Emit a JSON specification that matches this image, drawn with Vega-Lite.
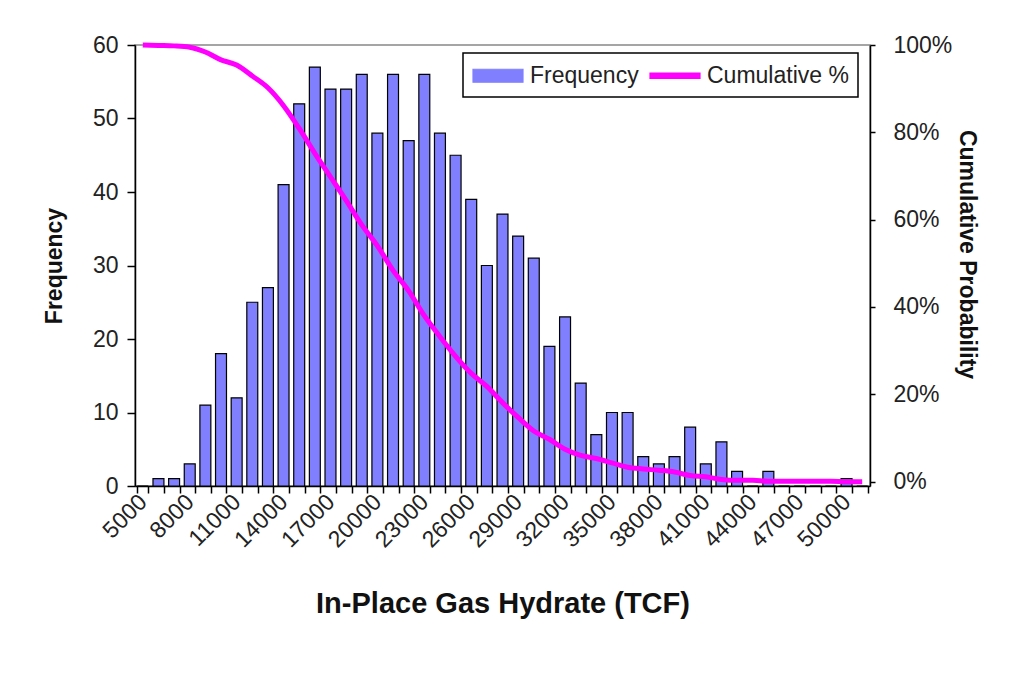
{
  "$schema": "https://vega.github.io/schema/vega-lite/v6.json",
  "width": 735,
  "height": 441,
  "autosize": {"type": "none"},
  "padding": {"left": 135, "top": 45, "right": 154, "bottom": 212},
  "background": "white",
  "config": {
    "view": {"stroke": "#888888", "strokeWidth": 1.5},
    "font": "Liberation Sans",
    "axis": {
      "labelFont": "Liberation Sans",
      "labelFontSize": 23,
      "labelColor": "#222222",
      "titleFont": "Liberation Sans",
      "titleFontWeight": "bold",
      "titleColor": "#111111",
      "domainColor": "#000000",
      "domainWidth": 1.5,
      "tickColor": "#000000",
      "tickWidth": 1.5,
      "grid": false
    },
    "legend": {
      "orient": "none",
      "legendX": 328,
      "legendY": 8,
      "direction": "horizontal",
      "strokeColor": "#000000",
      "padding": 9,
      "labelFont": "Liberation Sans",
      "labelFontSize": 23,
      "labelColor": "#222222",
      "symbolType": "M-1,-0.52H3V0.52H-1Z",
      "symbolSize": 625,
      "symbolStrokeColor": "#000000",
      "symbolStrokeWidth": 1.2,
      "labelOffset": 31,
      "columnPadding": 8
    }
  },
  "data": {
    "values": [
      {"bin": 5000, "freq": 0, "cum": 1.0},
      {"bin": 6000, "freq": 1, "cum": 0.999},
      {"bin": 7000, "freq": 1, "cum": 0.998},
      {"bin": 8000, "freq": 3, "cum": 0.995},
      {"bin": 9000, "freq": 11, "cum": 0.984},
      {"bin": 10000, "freq": 18, "cum": 0.966},
      {"bin": 11000, "freq": 12, "cum": 0.954},
      {"bin": 12000, "freq": 25, "cum": 0.929},
      {"bin": 13000, "freq": 27, "cum": 0.902},
      {"bin": 14000, "freq": 41, "cum": 0.861},
      {"bin": 15000, "freq": 52, "cum": 0.809},
      {"bin": 16000, "freq": 57, "cum": 0.752},
      {"bin": 17000, "freq": 54, "cum": 0.698},
      {"bin": 18000, "freq": 54, "cum": 0.644},
      {"bin": 19000, "freq": 56, "cum": 0.588},
      {"bin": 20000, "freq": 48, "cum": 0.54},
      {"bin": 21000, "freq": 56, "cum": 0.484},
      {"bin": 22000, "freq": 47, "cum": 0.437},
      {"bin": 23000, "freq": 56, "cum": 0.38},
      {"bin": 24000, "freq": 48, "cum": 0.332},
      {"bin": 25000, "freq": 45, "cum": 0.287},
      {"bin": 26000, "freq": 39, "cum": 0.248},
      {"bin": 27000, "freq": 30, "cum": 0.218},
      {"bin": 28000, "freq": 37, "cum": 0.181},
      {"bin": 29000, "freq": 34, "cum": 0.147},
      {"bin": 30000, "freq": 31, "cum": 0.116},
      {"bin": 31000, "freq": 19, "cum": 0.097},
      {"bin": 32000, "freq": 23, "cum": 0.074},
      {"bin": 33000, "freq": 14, "cum": 0.06},
      {"bin": 34000, "freq": 7, "cum": 0.053},
      {"bin": 35000, "freq": 10, "cum": 0.043},
      {"bin": 36000, "freq": 10, "cum": 0.033},
      {"bin": 37000, "freq": 4, "cum": 0.029},
      {"bin": 38000, "freq": 3, "cum": 0.026},
      {"bin": 39000, "freq": 4, "cum": 0.022},
      {"bin": 40000, "freq": 8, "cum": 0.014},
      {"bin": 41000, "freq": 3, "cum": 0.011},
      {"bin": 42000, "freq": 6, "cum": 0.005},
      {"bin": 43000, "freq": 2, "cum": 0.003},
      {"bin": 44000, "freq": 0, "cum": 0.003},
      {"bin": 45000, "freq": 2, "cum": 0.001},
      {"bin": 46000, "freq": 0, "cum": 0.001},
      {"bin": 47000, "freq": 0, "cum": 0.001},
      {"bin": 48000, "freq": 0, "cum": 0.001},
      {"bin": 49000, "freq": 0, "cum": 0.001},
      {"bin": 50000, "freq": 1, "cum": 0.0},
      {"bin": 51000, "freq": 0, "cum": 0.0}
    ]
  },
  "encoding": {
    "x": {
      "field": "bin",
      "type": "ordinal",
      "scale": {"paddingInner": 0.3, "paddingOuter": 0.15},
      "axis": {
        "title": "In-Place Gas Hydrate (TCF)",
        "titleFontSize": 29,
        "titleY": 103,
        "labelAngle": -45,
        "labelAlign": "right",
        "labelBaseline": "middle",
        "labelPadding": 5,
        "labelOverlap": false,
        "labelExpr": "datum.value % 3000 == 2000 ? datum.label : ''",
        "tickBand": "extent",
        "tickSize": 7
      }
    }
  },
  "layer": [
    {
      "mark": {"type": "bar", "stroke": "#000000", "strokeWidth": 1.2},
      "encoding": {
        "y": {
          "field": "freq",
          "type": "quantitative",
          "scale": {"domain": [0, 60], "nice": false},
          "axis": {
            "title": "Frequency",
            "titleFontSize": 23,
            "titlePadding": 26,
            "values": [0, 10, 20, 30, 40, 50, 60],
            "tickSize": 8,
            "labelPadding": 9
          }
        },
        "color": {
          "datum": "Frequency",
          "type": "nominal",
          "scale": {"domain": ["Frequency", "Cumulative %"], "range": ["#8080FF", "#FF00FF"]},
          "legend": {
            "title": null,
            "encode": {
              "legend": {"update": {"strokeWidth": {"value": 1.5}}},
              "symbols": {
                "update": {
                  "shape": {"signal": "datum.value == 'Frequency' ? 'M-1,-0.52H3V0.52H-1Z' : 'M-1,-0.22H3V0.22H-1Z'"},
                  "fill": {"signal": "datum.value == 'Frequency' ? '#8080FF' : '#FF00FF'"},
                  "stroke": {"signal": "datum.value == 'Frequency' ? '#000000' : '#FF00FF'"},
                  "strokeWidth": {"value": 1.2},
                  "opacity": {"value": 1},
                  "fillOpacity": {"value": 1}
                }
              }
            }
          }
        }
      }
    },
    {
      "mark": {"type": "line", "strokeWidth": 5, "interpolate": "monotone"},
      "encoding": {
        "y": {
          "field": "cum",
          "type": "quantitative",
          "scale": {"domain": [-0.01, 1], "nice": false, "zero": false},
          "axis": {
            "title": "Cumulative Probability",
            "orient": "right",
            "titleFontSize": 23,
            "titlePadding": 3,
            "titleY": 209,
            "format": ".0%",
            "values": [0, 0.2, 0.4, 0.6, 0.8, 1],
            "tickSize": 5,
            "labelPadding": 18
          }
        },
        "color": {
          "datum": "Cumulative %",
          "type": "nominal",
          "legend": {
            "title": null,
            "encode": {
              "legend": {"update": {"strokeWidth": {"value": 1.5}}},
              "symbols": {
                "update": {
                  "shape": {"signal": "datum.value == 'Frequency' ? 'M-1,-0.52H3V0.52H-1Z' : 'M-1,-0.22H3V0.22H-1Z'"},
                  "fill": {"signal": "datum.value == 'Frequency' ? '#8080FF' : '#FF00FF'"},
                  "stroke": {"signal": "datum.value == 'Frequency' ? '#000000' : '#FF00FF'"},
                  "strokeWidth": {"value": 1.2},
                  "opacity": {"value": 1},
                  "fillOpacity": {"value": 1}
                }
              }
            }
          }
        }
      }
    }
  ],
  "resolve": {"scale": {"y": "independent"}}
}
